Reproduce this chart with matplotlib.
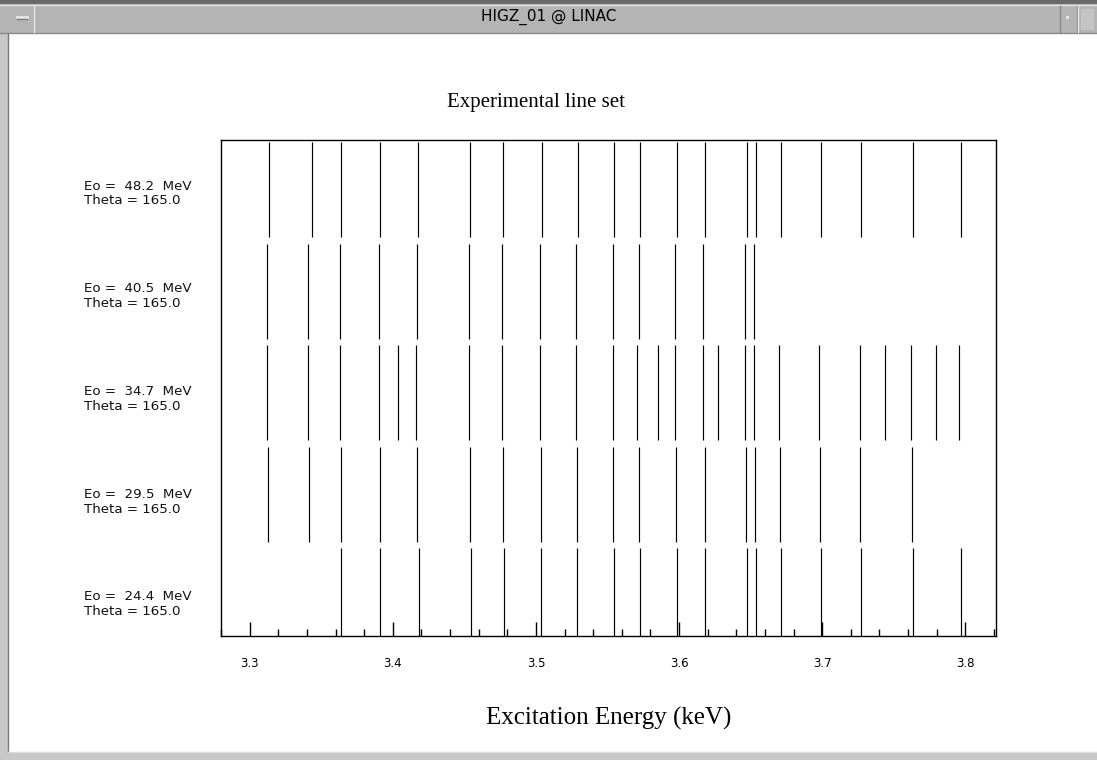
import matplotlib
matplotlib.use("Agg")
import matplotlib.pyplot as plt
from matplotlib.patches import Rectangle
from matplotlib.lines import Line2D

# ---------------- data ----------------
row_labels = [
    ("Eo =  48.2  MeV", "Theta = 165.0"),
    ("Eo =  40.5  MeV", "Theta = 165.0"),
    ("Eo =  34.7  MeV", "Theta = 165.0"),
    ("Eo =  29.5  MeV", "Theta = 165.0"),
    ("Eo =  24.4  MeV", "Theta = 165.0"),
]
lines_48_2 = [3.3135, 3.3435, 3.3636, 3.3914, 3.4177, 3.4538, 3.4773, 3.5039, 3.5291, 3.5547,
              3.5728, 3.5987, 3.6184, 3.6472, 3.6537, 3.6714, 3.6993, 3.7273, 3.7634, 3.7972]
lines_40_5 = [3.3119, 3.3411, 3.3628, 3.3903, 3.4168, 3.4531, 3.4766, 3.5028, 3.5281, 3.5536,
              3.5719, 3.5971, 3.6170, 3.6458, 3.6523]
lines_34_7 = [3.3119, 3.3411, 3.3628, 3.3903, 3.4039, 3.4160, 3.4531, 3.4766, 3.5028, 3.5281,
              3.5536, 3.5709, 3.5851, 3.5971, 3.6170, 3.6274, 3.6458, 3.6523, 3.6695, 3.6979,
              3.7261, 3.7437, 3.7621, 3.7793, 3.7956]
lines_29_5 = [3.3125, 3.3418, 3.3635, 3.3909, 3.4168, 3.4538, 3.4773, 3.5032, 3.5286, 3.5541,
              3.5722, 3.5980, 3.6178, 3.6466, 3.6531, 3.6708, 3.6987, 3.7267, 3.7628]
lines_24_4 = [3.3636, 3.3914, 3.4180, 3.4547, 3.4777, 3.5035, 3.5290, 3.5547, 3.5728, 3.5987,
              3.6184, 3.6472, 3.6537, 3.6714, 3.6993, 3.7273, 3.7634, 3.7972]
row_lines = [lines_48_2, lines_40_5, lines_34_7, lines_29_5, lines_24_4]
major_ticks = [3.3, 3.4, 3.5, 3.6, 3.7, 3.8]
tick_labels = ["3.3", "3.4", "3.5", "3.6", "3.7", "3.8"]
title = "Experimental line set"
xlabel = "Excitation Energy (keV)"
window_title = "HIGZ_01 @ LINAC"

# ---------------- figure ----------------
W, H = 1097, 760
fig = plt.figure(figsize=(W / 100, H / 100), dpi=100, facecolor="white")

def fx(px):
    return px / W

def fy(py):
    return 1 - py / H

# window decoration
def frect(x0, y0, x1, y1, color, z=0):
    fig.patches.append(Rectangle((fx(x0), fy(y1)), fx(x1) - fx(x0), fy(y0) - fy(y1),
                                 transform=fig.transFigure, facecolor=color,
                                 edgecolor="none", zorder=z))

def fline(x0, y0, x1, y1, color, lw=1.0, z=2):
    fig.lines.append(Line2D([fx(x0), fx(x1)], [fy(y0), fy(y1)], transform=fig.transFigure,
                            color=color, lw=lw, zorder=z))

frect(0, 0, W, 33, "#b4b4b4")           # title bar
frect(0, 0, W, 4, "#6a6a6a")            # top dark edge
frect(0, 33, 8, H, "#c8c8c8")           # left border
frect(0, 752, W, H, "#c8c8c8")          # bottom border
fline(8, 33, 8, 752, "#7a7a7a", 1.0)
fline(8, 752, W, 752, "#dddddd", 1.0)
fline(0, 33, W, 33, "#8a8a8a", 1.0)
fline(0, 5, W, 5, "#e0e0e0", 1.0)
fline(34, 6, 34, 32, "#e6e6e6", 1.0)
fline(1060, 6, 1060, 32, "#8a8a8a", 1.0)
fline(1077, 6, 1077, 32, "#8a8a8a", 1.0)
fline(1078, 6, 1078, 32, "#e6e6e6", 1.0)
fline(17, 17, 27, 17, "#e6e6e6", 2.0)
fline(17, 18.5, 27, 18.5, "#7a7a7a", 1.0)
frect(1066, 16, 1069, 19, "#e6e6e6", 1)
frect(1081, 9, 1094, 30, "#c4c4c4", 1)
fig.text(fx(549), fy(17), window_title, ha="center", va="center",
         fontsize=11, fontfamily="DejaVu Sans Condensed", color="black")

# ---------------- axes ----------------
ax = fig.add_axes([fx(221), fy(636), fx(996) - fx(221), fy(140) - fy(636)])
ax.set_xlim(3.2873, 3.8214)
ax.set_ylim(0, 4.887)

n = len(row_lines)
for i, energies in enumerate(row_lines):
    k = n - 1 - i
    ax.vlines(energies, k - 0.069, k + 0.867, colors="black", linewidth=0.85)

for sp in ax.spines.values():
    sp.set_linewidth(1.0)
    sp.set_color("black")

ax.set_xticks(major_ticks)
ax.set_xticklabels(tick_labels, fontsize=8.5, fontfamily="DejaVu Sans")
minor = [3.28 + 0.02 * j for j in range(28)]
ax.set_xticks([m for m in minor if all(abs(m - t) > 1e-6 for t in major_ticks)], minor=True)
ax.tick_params(axis="x", which="major", direction="in", length=10, width=1, pad=15,
               top=False)
ax.tick_params(axis="x", which="minor", direction="in", length=5, width=1, top=False)
ax.set_yticks([])

# row labels
for i, (l1, l2) in enumerate(row_labels):
    yc = 186 + 102.7 * i
    fig.text(fx(84), fy(yc), l1, ha="left", va="center", fontsize=9.6,
             fontfamily="DejaVu Sans", color="#111111")
    fig.text(fx(84), fy(yc + 15), l2, ha="left", va="center", fontsize=9.6,
             fontfamily="DejaVu Sans", color="#111111")

fig.text(fx(536), fy(103), title, ha="center", va="center", fontsize=15,
         fontfamily="Liberation Serif")
fig.text(fx(609), fy(718), xlabel, ha="center", va="center", fontsize=18,
         fontfamily="Liberation Serif")

fig.savefig("out.png", dpi=100, facecolor="white")
